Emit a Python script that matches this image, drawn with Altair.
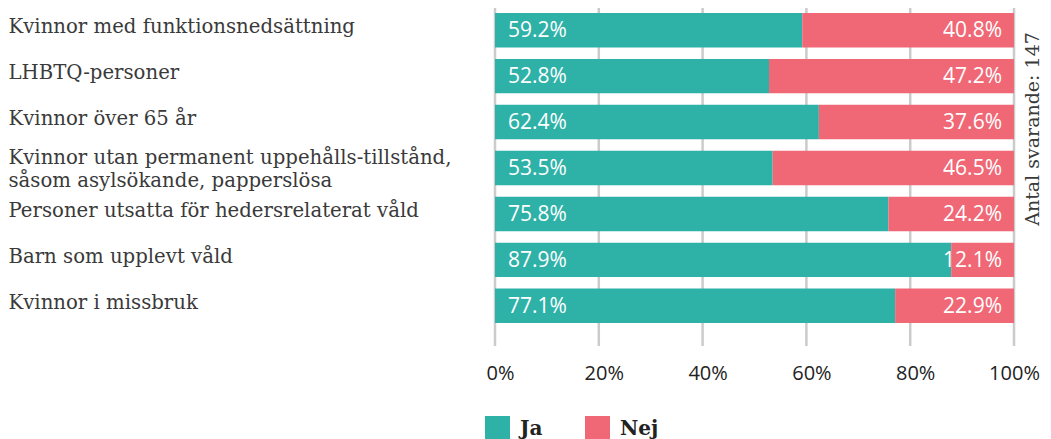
import altair as alt
import pandas as pd

categories = [
    "Kvinnor med funktionsnedsättning",
    "LHBTQ-personer",
    "Kvinnor över 65 år",
    "Kvinnor utan permanent uppehålls-tillstånd,|såsom asylsökande, papperslösa",
    "Personer utsatta för hedersrelaterat våld",
    "Barn som upplevt våld",
    "Kvinnor i missbruk",
]
ja = [59.2, 52.8, 62.4, 53.5, 75.8, 87.9, 77.1]
nej = [40.8, 47.2, 37.6, 46.5, 24.2, 12.1, 22.9]
answers = ["Ja", "Nej"]
colors = ["#2eb1a7", "#f06776"]
ticks = [0, 20, 40, 60, 80, 100]
note = "Antal svarande: 147"

rows = []
for c, j, n in zip(categories, ja, nej):
    rows.append({"cat": c, "svar": "Ja", "val": j, "ord": 0, "start": 0, "end": j})
    rows.append({"cat": c, "svar": "Nej", "val": n, "ord": 1, "start": j, "end": j + n})
df = pd.DataFrame(rows)
df["lab"] = df["val"].map(lambda v: f"{v:.1f}%")

W = 519
H = 318

xscale = alt.Scale(domain=[0, 100], nice=False, zero=True)
yscale = alt.Scale(domain=categories, paddingInner=0.25, paddingOuter=0.087)

grid = alt.Chart(pd.DataFrame({"t": ticks})).mark_rule(
    color="#cbcbcb", strokeWidth=2.5
).encode(
    x=alt.X("t:Q", scale=xscale),
    y=alt.value(-2),
    y2=alt.value(337),
)

bars = alt.Chart(df).mark_bar().encode(
    x=alt.X(
        "start:Q",
        scale=xscale,
        axis=alt.Axis(
            values=ticks,
            labelExpr="datum.value + '%'",
            grid=False,
            domain=False,
            ticks=False,
            labelFlush=False,
            labelPadding=36,
            labelOffset={
                "condition": {"test": "datum.value == 100", "value": 0},
                "value": 5,
            },
            labelFont="Open Sans",
            labelFontSize=20,
            labelColor="#222222",
            title=None,
        ),
    ),
    x2="end:Q",
    y=alt.Y(
        "cat:N",
        scale=yscale,
        sort=categories,
        axis=alt.Axis(
            title=None,
            domain=False,
            ticks=False,
            labelAlign="left",
            labelPadding=487,
            labelLimit=0,
            labelOffset={
                "condition": {"test": "indexof(datum.value, '|') >= 0", "value": -10},
                "value": -3,
            },
            labelExpr="split(datum.label, '|')",
            labelLineHeight=23,
            labelFont="DejaVu Serif",
            labelFontSize=19.7,
            labelFontWeight=300,
            labelColor="#3a3a3a",
        ),
    ),
    color=alt.Color(
        "svar:N",
        scale=alt.Scale(domain=answers, range=colors),
        legend=alt.Legend(
            title=None,
            orient="none",
            legendX=-10,
            legendY=407,
            direction="horizontal",
            symbolType="square",
            symbolSize=625,
            symbolStrokeWidth=0,
            symbolOpacity=1,
            labelFont="DejaVu Serif",
            labelFontSize=20,
            labelFontWeight="bold",
            labelColor="#222222",
            labelOffset=10,
            columnPadding=42,
            padding=0,
        ),
    ),
)

ja_text = alt.Chart(df[df["svar"] == "Ja"]).mark_text(
    align="left", baseline="middle", dx=13, dy=1, color="white",
    font="Open Sans", fontSize=21,
).encode(
    x=alt.X("start:Q", scale=xscale),
    y=alt.Y("cat:N", scale=yscale, sort=categories),
    text="lab:N",
)

nej_text = alt.Chart(df[df["svar"] == "Nej"]).mark_text(
    align="right", baseline="middle", dx=-12, dy=1, color="white",
    font="Open Sans", fontSize=21,
).encode(
    x=alt.X("end:Q", scale=xscale),
    y=alt.Y("cat:N", scale=yscale, sort=categories),
    text="lab:N",
)

side = alt.Chart(pd.DataFrame({"t": [note]})).mark_text(
    angle=270, align="center", baseline="alphabetic",
    font="DejaVu Serif", fontSize=19, fontWeight=300, color="#3a3a3a",
).encode(
    x=alt.value(544),
    y=alt.value(120),
    text="t:N",
)

chart = alt.layer(grid, bars, ja_text, nej_text, side).properties(
    width=W,
    height=H,
    autosize=alt.AutoSizeParams(type="none"),
    padding={"left": 487, "top": 1, "right": 29, "bottom": 140},
).configure_view(stroke=None)

chart.save("out.html", embed_options={"renderer": "svg", "actions": False})
